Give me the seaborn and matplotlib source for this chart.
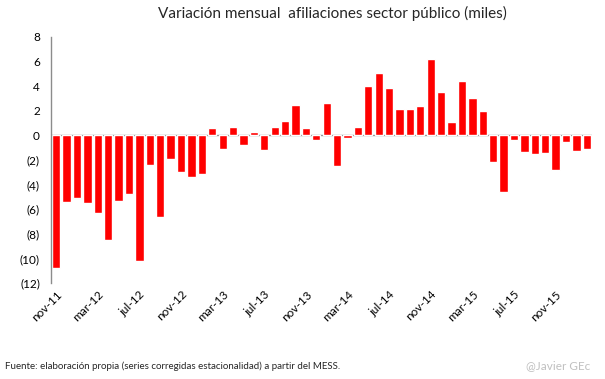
# Variación mensual afiliaciones sector público
import pandas as pd
import seaborn as sns
import matplotlib.pyplot as plt
from matplotlib.ticker import FuncFormatter

# Datos (miles), nov-11 a feb-16
abrev = ['nov', 'dic', 'ene', 'feb', 'mar', 'abr', 'may', 'jun', 'jul', 'ago', 'sep', 'oct']
meses = [f"{abrev[i % 12]}-{11 + (i + 10) // 12}" for i in range(52)]
valores = [-10.8, -5.4, -5.05, -5.5, -6.3, -8.5, -5.3, -4.8, -10.2, -2.4, -6.6, -1.9,
           -3.0, -3.35, -3.1, 0.6, -1.08, 0.68, -0.76, 0.27, -1.16, 0.68, 1.19, 2.46,
           0.6, -0.35, 2.62, -2.46, -0.19, 0.68, 4.0, 5.05, 3.84, 2.14, 2.14, 2.38,
           6.19, 3.51, 1.11, 4.46, 3.03, 1.97, -2.14, -4.57, -0.35, -1.32, -1.49, -1.41,
           -2.78, -0.51, -1.24, -1.08]
df = pd.DataFrame({'mes': meses, 'valor': valores})

sns.set_style("white")
plt.rcParams['font.family'] = ['Lato', 'DejaVu Sans']

fig = plt.figure(figsize=(6.05, 3.79), dpi=100)
ax = fig.add_axes([0.0843, 0.2533, 0.8942, 0.6491])

sns.barplot(data=df, x='mes', y='valor', color='#ff0000', saturation=1, width=0.8, ax=ax)

ax.axhline(0, color='#8c8c8c', lw=1, zorder=0)
ax.set_ylim(-12, 8)
ax.set_yticks(range(-12, 9, 2))
ax.yaxis.set_major_formatter(FuncFormatter(lambda v, p: f"({abs(int(v))})" if v < 0 else f"{int(v)}"))
ax.set_xlim(-0.5, len(meses) - 0.5)
ax.set_xticks(range(0, len(meses), 4))
ax.set_xticklabels(meses[::4], rotation=45, ha='right', rotation_mode='anchor')
ax.tick_params(axis='both', length=0, labelsize=8.5, colors='black')
ax.tick_params(axis='x', pad=4)
ax.tick_params(axis='y', pad=8)
ax.set_xlabel('')
ax.set_ylabel('')

for s in ['top', 'right', 'bottom']:
    ax.spines[s].set_visible(False)
ax.spines['left'].set_color('#8c8c8c')
ax.spines['left'].set_linewidth(1)

fig.text(0.55, 0.965, "Variación mensual  afiliaciones sector público (miles)",
         ha='center', va='center', fontsize=11)
fig.text(0.008, 0.035, "Fuente: elaboración propia (series corregidas estacionalidad) a partir del MESS.",
         ha='left', va='center', fontsize=7)
fig.text(0.975, 0.035, "@Javier GEc", ha='right', va='center', fontsize=8.5, color='#c0c0c0')

fig.savefig('out.png', dpi=100)
